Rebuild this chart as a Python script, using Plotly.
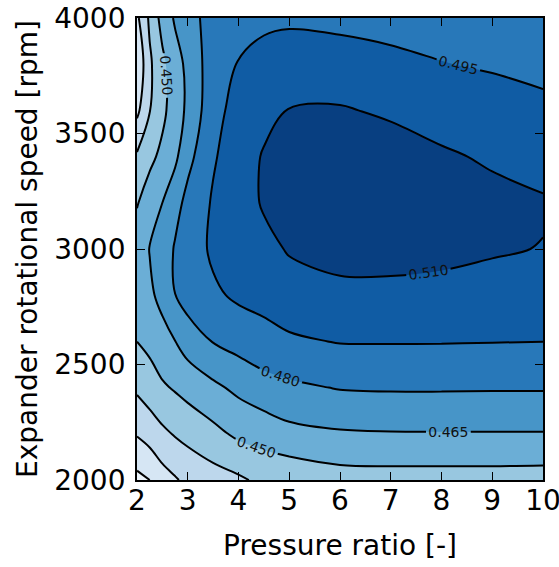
import numpy as np
import plotly.graph_objects as go

# Pressure ratio grid [-]
pressure_ratio = [2, 2.25, 2.5, 2.75, 3, 3.5, 4, 4.5, 5, 6, 7, 8, 9, 10]
# Expander rotational speed grid [rpm]
speed_rpm = [2000, 2200, 2400, 2600, 2800, 3000, 3200, 3400, 3600, 3800, 4000]

# Efficiency values, one list per pressure ratio (bottom -> top in rpm)
eff_pr_2_00 = [0.4009, 0.4212, 0.4376, 0.4501, 0.4565, 0.4575, 0.4490, 0.4370, 0.4165, 0.4070, 0.4170]
eff_pr_2_25 = [0.4050, 0.4263, 0.4428, 0.4540, 0.4625, 0.4655, 0.4575, 0.4465, 0.4345, 0.4325, 0.4376]
eff_pr_2_50 = [0.4135, 0.4319, 0.4480, 0.4601, 0.4690, 0.4705, 0.4650, 0.4535, 0.4465, 0.4465, 0.4555]
eff_pr_2_75 = [0.4185, 0.4362, 0.4515, 0.4648, 0.4799, 0.4815, 0.4745, 0.4620, 0.4575, 0.4590, 0.4668]
eff_pr_3_00 = [0.4235, 0.4395, 0.4552, 0.4717, 0.4865, 0.4870, 0.4845, 0.4755, 0.4680, 0.4685, 0.4735]
eff_pr_3_50 = [0.4286, 0.4459, 0.4619, 0.4806, 0.4925, 0.4975, 0.4965, 0.4935, 0.4900, 0.4885, 0.4870]
eff_pr_4_00 = [0.4326, 0.4529, 0.4684, 0.4855, 0.4975, 0.5005, 0.5030, 0.5028, 0.5005, 0.4956, 0.4905]
eff_pr_4_50 = [0.4385, 0.4562, 0.4740, 0.4901, 0.4994, 0.5059, 0.5115, 0.5112, 0.5057, 0.4991, 0.4925]
eff_pr_5_00 = [0.4390, 0.4607, 0.4772, 0.4928, 0.5036, 0.5112, 0.5145, 0.5145, 0.5105, 0.5014, 0.4930]
eff_pr_6_00 = [0.4435, 0.4634, 0.4808, 0.4957, 0.5060, 0.5155, 0.5195, 0.5180, 0.5112, 0.5011, 0.4915]
eff_pr_7_00 = [0.4440, 0.4641, 0.4815, 0.4958, 0.5061, 0.5155, 0.5190, 0.5165, 0.5079, 0.4985, 0.4900]
eff_pr_8_00 = [0.4440, 0.4642, 0.4815, 0.4957, 0.5054, 0.5140, 0.5165, 0.5120, 0.5037, 0.4954, 0.4900]
eff_pr_9_00 = [0.4440, 0.4642, 0.4813, 0.4954, 0.5041, 0.5115, 0.5140, 0.5081, 0.5005, 0.4937, 0.4890]
eff_pr_10_0 = [0.4435, 0.4642, 0.4813, 0.4951, 0.5020, 0.5095, 0.5115, 0.5041, 0.4976, 0.4920, 0.4870]

columns = [eff_pr_2_00, eff_pr_2_25, eff_pr_2_50, eff_pr_2_75, eff_pr_3_00, eff_pr_3_50,
           eff_pr_4_00, eff_pr_4_50, eff_pr_5_00, eff_pr_6_00, eff_pr_7_00, eff_pr_8_00,
           eff_pr_9_00, eff_pr_10_0]
z = np.column_stack(columns)  # rows = rpm, cols = pressure ratio

# Contour levels
level_start = 0.405
level_end = 0.5101
level_step = 0.015

# Band colours (matplotlib "Blues", 9 bands)
band_colors = ["#ecf4fb", "#d6e6f4", "#bdd7ec", "#98c7e0", "#6baed6",
               "#4795c8", "#2878b9", "#105ca4", "#083f81"]
n = len(band_colors) - 1
colorscale = [[i / n, c] for i, c in enumerate(band_colors)]

FONT = "DejaVu Sans"

fig = go.Figure(
    go.Contour(
        x=pressure_ratio,
        y=speed_rpm,
        z=z,
        autocontour=False,
        contours=dict(
            start=level_start,
            end=level_end,
            size=level_step,
            coloring="fill",
            showlabels=True,
            labelformat=".3f",
            labelfont=dict(family=FONT, size=14, color="#111111"),
        ),
        colorscale=colorscale,
        showscale=False,
        line=dict(color="black", width=2, smoothing=1.0),
        hoverinfo="skip",
    )
)

axis_common = dict(
    showline=True,
    linecolor="black",
    linewidth=1.8,
    mirror="ticks",
    ticks="inside",
    ticklen=8,
    tickwidth=1.2,
    tickcolor="black",
    showgrid=False,
    zeroline=False,
    automargin=False,
    ticklabeloverflow="allow",
    tickfont=dict(family=FONT, size=28, color="black"),
    title_font=dict(family=FONT, size=28, color="black"),
)

fig.update_xaxes(
    range=[2, 10],
    tickvals=[2, 3, 4, 5, 6, 7, 8, 9, 10],
    ticktext=["2", "3", "4", "5", "6", "7", "8", "9", "10"],
    title_text="Pressure ratio [-]",
    title_standoff=20,
    ticklabelstandoff=-6,
    **axis_common,
)
fig.update_yaxes(
    range=[2000, 4000],
    tickvals=[2000, 2500, 3000, 3500, 4000],
    ticktext=["2000", "2500", "3000", "3500", "4000"],
    title_text="Expander rotational speed [rpm]",
    title_standoff=8,
    ticklabelstandoff=4,
    **axis_common,
)

fig.update_layout(
    width=559,
    height=567,
    margin=dict(l=137, r=16, t=18, b=87),
    paper_bgcolor="white",
    plot_bgcolor="white",
    font=dict(family=FONT, color="black"),
    showlegend=False,
)

# remove the default page margin so the figure sits at the window's top-left corner
fig.write_html(
    "out.html",
    config={"displayModeBar": False},
    post_script="document.body.style.margin='0';",
)
